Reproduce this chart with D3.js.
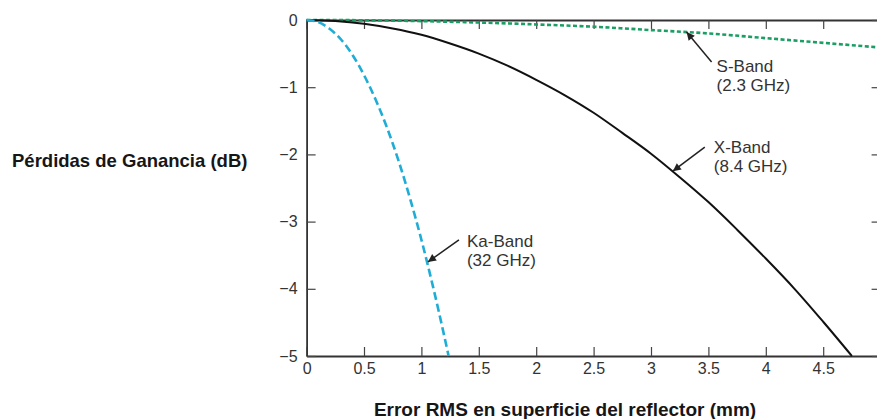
<!DOCTYPE html>
<html>
<head>
<meta charset="utf-8">
<script src="https://cdn.jsdelivr.net/npm/d3@7/dist/d3.min.js"></script>
<style>
  body { margin: 0; background: #fff; }
  text { font-family: "Liberation Sans", Arial, sans-serif; }
</style>
</head>
<body>
<div id="viz"></div>
<script>
// values
var xTicks = [0, 0.5, 1, 1.5, 2, 2.5, 3, 3.5, 4, 4.5, 5]
var yTicks = [0, -1, -2, -3, -4, -5]

var kaX = [0, 0.1, 0.2, 0.3, 0.4, 0.5, 0.6, 0.7, 0.8, 0.9, 1.0, 1.1, 1.2, 1.237]
var kaY = [0, -0.03, -0.13, -0.29, -0.52, -0.82, -1.18, -1.6, -2.09, -2.65, -3.27, -3.96, -4.71, -5.0]

var xbX = [0, 0.25, 0.5, 0.75, 1, 1.25, 1.5, 1.75, 2, 2.25, 2.5, 2.75, 3, 3.25, 3.5, 3.75, 4, 4.25, 4.5, 4.75]
var xbY = [0, -0.014, -0.055, -0.125, -0.22, -0.35, -0.5, -0.68, -0.89, -1.12, -1.38, -1.68, -1.99, -2.34, -2.71, -3.12, -3.55, -4.0, -4.49, -5.0]

var sX = [0, 0.5, 1, 1.5, 2, 2.5, 3, 3.5, 4, 4.5, 5]
var sY = [0, -0.004, -0.017, -0.037, -0.066, -0.1, -0.15, -0.2, -0.27, -0.34, -0.41]

// annotations: name, frequency, arrow tip (data units)
var notes = [
  { l1: "S-Band", l2: "(2.3 GHz)", x: 3.31, y: -0.18, tail: [25, 30], txt: [30, 40] },
  { l1: "X-Band", l2: "(8.4 GHz)", x: 3.19, y: -2.25, tail: [32, -24], txt: [41, -18] },
  { l1: "Ka-Band", l2: "(32 GHz)", x: 1.057, y: -3.6, tail: [31, -22], txt: [39, -15] }
]

var width = 877,
  height = 419,
  margin = { left: 306.6, top: 20, right: -3.6, bottom: 63 }

var x = d3.scaleLinear().domain([0, 5]).range([margin.left, width - margin.right])
var y = d3.scaleLinear().domain([0, -5]).range([margin.top, height - margin.bottom])

var svg = d3.select("#viz").append("svg")
  .attr("width", width)
  .attr("height", height)

svg.append("defs").append("marker")
  .attr("id", "arr")
  .attr("viewBox", "0 0 10 10")
  .attr("refX", 10).attr("refY", 5)
  .attr("markerWidth", 11).attr("markerHeight", 8)
  .attr("markerUnits", "userSpaceOnUse")
  .attr("orient", "auto")
  .append("path").attr("d", "M0,0L10,5L0,10z").attr("fill", "#222")

var fmt = d3.format("~g")

function styleAxis(g) {
  g.selectAll(".domain").attr("stroke", "#333").attr("stroke-width", 1.8)
  g.selectAll(".tick line").attr("stroke", "#444").attr("stroke-width", 1.2)
  g.selectAll(".tick text").attr("fill", "#333").style("font-size", "16px")
}

svg.append("g")
  .attr("transform", "translate(0," + y(-5) + ")")
  .call(d3.axisBottom(x).tickValues(xTicks).tickFormat(fmt).tickSizeInner(-9).tickSizeOuter(0).tickPadding(7))
  .call(styleAxis)

svg.append("g")
  .attr("transform", "translate(0," + y(0) + ")")
  .call(d3.axisTop(x).tickValues(xTicks).tickFormat("").tickSizeInner(-9).tickSizeOuter(0))
  .call(styleAxis)

svg.append("g")
  .attr("transform", "translate(" + x(0) + ",0)")
  .call(d3.axisLeft(y).tickValues(yTicks).tickFormat(fmt).tickSizeInner(-9).tickSizeOuter(0).tickPadding(9))
  .call(styleAxis)

svg.append("g")
  .attr("transform", "translate(" + x(5) + ",0)")
  .call(d3.axisRight(y).tickValues(yTicks).tickFormat("").tickSizeInner(-9).tickSizeOuter(0))
  .call(styleAxis)

var line = d3.line()
  .x(function(d) { return x(d[0]) })
  .y(function(d) { return y(d[1]) })
  .curve(d3.curveMonotoneX)

function pts(xs, ys) { return xs.map(function(v, i) { return [v, ys[i]] }) }

svg.append("path")
  .datum(pts(sX, sY))
  .attr("d", line)
  .attr("fill", "none")
  .attr("stroke", "#1a9e63")
  .attr("stroke-width", 2.6)
  .attr("stroke-dasharray", "4,2.5")

svg.append("path")
  .datum(pts(xbX, xbY))
  .attr("d", line)
  .attr("fill", "none")
  .attr("stroke", "#111")
  .attr("stroke-width", 2)

svg.append("path")
  .datum(pts(kaX, kaY))
  .attr("d", line)
  .attr("fill", "none")
  .attr("stroke", "#1fadd6")
  .attr("stroke-width", 2.6)
  .attr("stroke-dasharray", "8,4")

var ann = svg.selectAll(".ann").data(notes).enter().append("g").attr("class", "ann")

ann.append("line")
  .attr("x1", function(d) { return x(d.x) + d.tail[0] })
  .attr("y1", function(d) { return y(d.y) + d.tail[1] })
  .attr("x2", function(d) { return x(d.x) })
  .attr("y2", function(d) { return y(d.y) })
  .attr("stroke", "#222")
  .attr("stroke-width", 1.5)
  .attr("marker-end", "url(#arr)")

ann.append("text")
  .attr("x", function(d) { return x(d.x) + d.txt[0] })
  .attr("y", function(d) { return y(d.y) + d.txt[1] })
  .attr("fill", "#333")
  .style("font-size", "17px")
  .text(function(d) { return d.l1 })

ann.append("text")
  .attr("x", function(d) { return x(d.x) + d.txt[0] })
  .attr("y", function(d) { return y(d.y) + d.txt[1] + 19 })
  .attr("fill", "#333")
  .style("font-size", "17px")
  .text(function(d) { return d.l2 })

svg.append("text")
  .attr("x", 12)
  .attr("y", 167)
  .attr("fill", "#161616")
  .style("font-size", "18.5px")
  .style("font-weight", "bold")
  .text("Pérdidas de Ganancia (dB)")

svg.append("text")
  .attr("x", 565)
  .attr("y", 416)
  .attr("text-anchor", "middle")
  .attr("fill", "#161616")
  .style("font-size", "19px")
  .style("font-weight", "bold")
  .text("Error RMS en superficie del reflector (mm)")
</script>
</body>
</html>
